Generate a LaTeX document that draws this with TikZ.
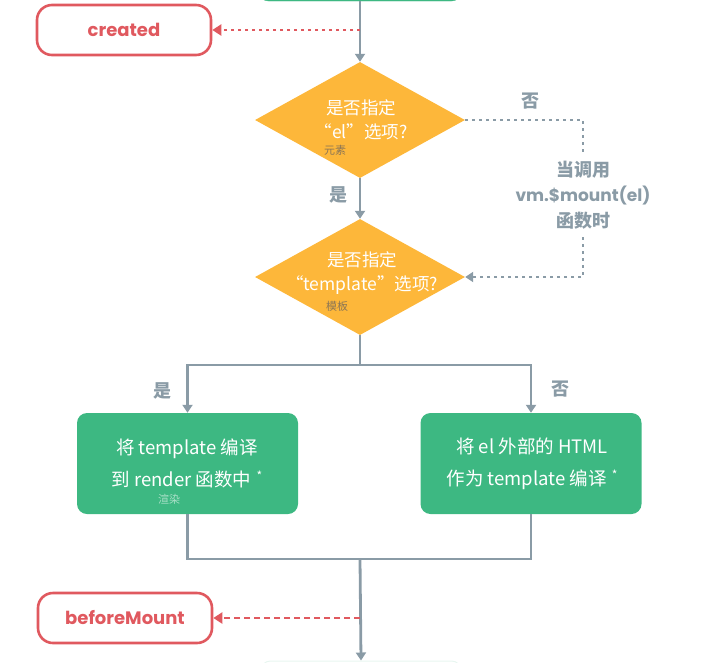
\documentclass[tikz,border=0pt]{standalone}
\usepackage{fontspec}
\usetikzlibrary{shapes.geometric,arrows.meta}
\newfontfamily\cjk{Noto Sans CJK SC}
\newfontfamily\pop{Poppins}
\definecolor{vuegreen}{HTML}{3DB882}
\definecolor{askorange}{HTML}{FDB73A}
\definecolor{hookred}{HTML}{E0595F}
\definecolor{flowgray}{HTML}{8A9BA6}
\definecolor{asknote}{HTML}{8C7655}

\begin{document}
\begin{tikzpicture}[x=1pt,y=-1pt,
	line/.style={draw=flowgray,line width=2.8pt},
	flow/.style={line,-{Triangle[width=10pt,length=8pt]}},
	notepath/.style={line,dash pattern=on 3pt off 4pt},
	hookdot/.style={draw=hookred,line width=2.8pt,dash pattern=on 3pt off 4pt,-{Triangle[width=11pt,length=9pt]}},
	hookdash/.style={draw=hookred,line width=2.8pt,dash pattern=on 6pt off 4pt,-{Triangle[width=11pt,length=9pt]}},
	hook/.style={draw=hookred,line width=2.6pt,rounded corners=15pt,minimum width=174pt,minimum height=50pt,text=hookred,font=\pop\bfseries\fontsize{18}{20}\selectfont},
	ask/.style={diamond,fill=askorange,inner sep=0pt,minimum width=210pt,minimum height=116pt},
	asktext/.style={text=white,align=center,font=\cjk\fontsize{17.5}{24}\selectfont},
	greenbox/.style={fill=vuegreen,rounded corners=10pt,minimum width=221pt,minimum height=101pt},
	boxtext/.style={text=white,align=center,font=\cjk\fontsize{18.5}{32}\selectfont},
	smallnote/.style={font=\cjk\fontsize{11}{12}\selectfont},
	yesno/.style={text=flowgray,font=\cjk\bfseries\fontsize{18}{20}\selectfont}]
	\useasboundingbox (0,0) rectangle (717,662);
	\clip (0,0) rectangle (717,662);

	\node[greenbox,minimum width=203pt,minimum height=50pt,draw=vuegreen] (prev) at (360,-24) {};
	\node[hook] (created) at (124,30) {created};
	\node[ask] (ask_el) at (360,120) {};
	\node[asktext] at (361,120) {是否指定\\“el”选项?};
	\node[smallnote,text=asknote] at (335,150) {元素};
	\node[ask] (ask_tpl) at (360,277) {};
	\node[asktext] at (362,273) {是否指定\\“template”选项?};
	\node[smallnote,text=asknote] at (337,306) {模板};

	\node[greenbox] (compile_tpl) at (187.5,463.5) {};
	\node[boxtext] at (187,463) {将 template 编译\\到 render 函数中\;\raisebox{6pt}{\fontsize{12}{12}\selectfont *}};
	\node[smallnote,text=white!55!vuegreen] at (169,499) {渲染};
	\node[greenbox] (compile_html) at (531,463.5) {};
	\node[boxtext] at (532,463.5) {将 el 外部的 HTML\\作为 template 编译\;\raisebox{6pt}{\fontsize{12}{12}\selectfont *}};

	\node[hook] (beforemount) at (125,618) {beforeMount};
	\node[draw=vuegreen!12,line width=1pt,rounded corners=10pt,minimum width=201pt,minimum height=50pt] (next) at (361,686) {};

	\node[yesno] at (530,101) {否};
	\node[yesno] at (338,195) {是};
	\node[yesno] at (162,391) {是};
	\node[yesno] at (560,389) {否};
	\node[text=flowgray,align=center,font=\bfseries\fontsize{17}{25.5}\selectfont] (mountnote) at (583,195) {{\cjk\fontsize{18}{25.5}\selectfont 当调用}\\{\pop vm.\$mount(el)}\\{\cjk\fontsize{18}{25.5}\selectfont 函数时}};
	\coordinate (mountup) at (583,152);
	\coordinate (mountdown) at (583,237);
	\coordinate (split) at (360,365);
	\coordinate (join) at (360,559);

	\draw[flow] (prev.south) -- (ask_el.north);
	\draw[hookdot] (created.east -| prev.south) -- (created.east);
	\draw[flow] (ask_el.south) -- (ask_tpl.north);
	\draw[notepath] (ask_el.east) -| (mountup);
	\draw[notepath,-{Triangle[width=10pt,length=8pt]}] (mountdown) |- (ask_tpl.east);
	\draw[line] (ask_tpl.south) -- (split);
	\draw[flow] (split) -| (compile_tpl.north);
	\draw[flow] (split) -| (compile_html.north);
	\draw[line] (compile_tpl.south) |- (join) -| (compile_html.south);
	\draw[flow] (join) -- (next.north);
	\draw[hookdash] (join |- beforemount.east) -- (beforemount.east);
\end{tikzpicture}
\end{document}
